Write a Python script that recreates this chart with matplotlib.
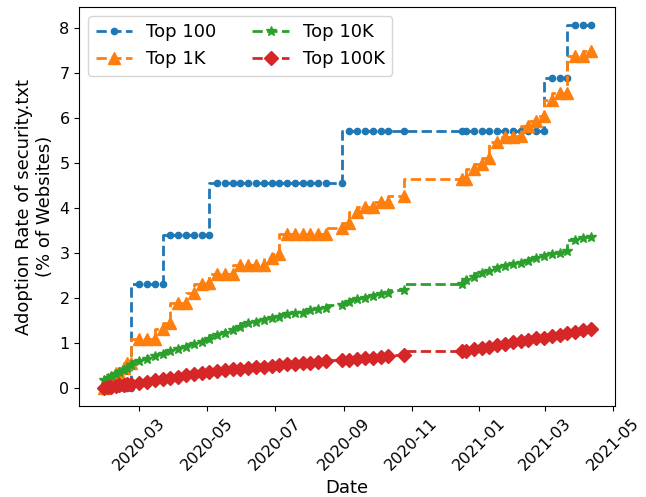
import matplotlib
matplotlib.use("Agg")
import matplotlib.pyplot as plt
import matplotlib.dates as mdates
import pandas as pd

# Scan dates
scan_dates = [
    "2020-01-29", "2020-02-02", "2020-02-05", "2020-02-09", "2020-02-12",
    "2020-02-16", "2020-02-19", "2020-02-23",
    "2020-03-01", "2020-03-08", "2020-03-15", "2020-03-22", "2020-03-29",
    "2020-04-05", "2020-04-12", "2020-04-19", "2020-04-26",
    "2020-05-03", "2020-05-10", "2020-05-17", "2020-05-24", "2020-05-31",
    "2020-06-07", "2020-06-14", "2020-06-21", "2020-06-28",
    "2020-07-05", "2020-07-12", "2020-07-19", "2020-07-26",
    "2020-08-02", "2020-08-09", "2020-08-16", "2020-08-30",
    "2020-09-06", "2020-09-13", "2020-09-20", "2020-09-27",
    "2020-10-04", "2020-10-11", "2020-10-25",
    "2020-12-16", "2020-12-20", "2020-12-27",
    "2021-01-03", "2021-01-10", "2021-01-17", "2021-01-24", "2021-01-31",
    "2021-02-07", "2021-02-14", "2021-02-21", "2021-02-28",
    "2021-03-07", "2021-03-14", "2021-03-21", "2021-03-28",
    "2021-04-04", "2021-04-11",
]

top_100 = [
    0.00, 0.00, 0.00, 0.00, 0.00, 0.00, 0.00, 0.00,
    2.30, 2.30, 2.30, 2.30, 3.41,
    3.41, 3.41, 3.41, 3.41,
    3.41, 4.55, 4.55, 4.55, 4.55,
    4.55, 4.55, 4.55, 4.55,
    4.55, 4.55, 4.55, 4.55,
    4.55, 4.55, 4.55, 4.55,
    5.71, 5.71, 5.71, 5.71,
    5.71, 5.71, 5.71,
    5.71, 5.71, 5.71,
    5.71, 5.71, 5.71, 5.71, 5.71,
    5.71, 5.71, 5.71, 5.71,
    6.90, 6.90, 6.90, 8.07,
    8.07, 8.07,
]

top_1k = [
    0.00, 0.11, 0.22, 0.33, 0.33, 0.44, 0.55, 0.55,
    1.08, 1.08, 1.08, 1.31, 1.44,
    1.88, 1.88, 2.10, 2.30,
    2.33, 2.53, 2.53, 2.53, 2.73,
    2.73, 2.73, 2.73, 2.88,
    2.98, 3.42, 3.42, 3.42,
    3.42, 3.42, 3.42, 3.55,
    3.67, 3.92, 4.03, 4.03,
    4.14, 4.14, 4.27,
    4.64, 4.64, 4.86,
    4.99, 5.12, 5.46, 5.58, 5.58,
    5.60, 5.82, 5.94, 6.04,
    6.41, 6.55, 6.55, 7.38,
    7.38, 7.50,
]

top_10k = [
    0.17, 0.22, 0.27, 0.31, 0.35, 0.40, 0.44, 0.50,
    0.60, 0.65, 0.70, 0.75, 0.82,
    0.87, 0.92, 0.97, 1.03,
    1.09, 1.18, 1.21, 1.29, 1.36,
    1.45, 1.47, 1.51, 1.55,
    1.58, 1.64, 1.66, 1.67,
    1.73, 1.76, 1.77, 1.84,
    1.92, 1.97, 2.01, 2.04,
    2.09, 2.12, 2.18,
    2.32, 2.40, 2.47,
    2.55, 2.60, 2.66, 2.72, 2.75,
    2.77, 2.83, 2.88, 2.93,
    2.98, 3.00, 3.05, 3.30,
    3.33, 3.36,
]

top_100k = [
    0.00, 0.02, 0.03, 0.05, 0.06, 0.07, 0.08, 0.09,
    0.11, 0.14, 0.17, 0.19, 0.22,
    0.25, 0.28, 0.31, 0.33,
    0.36, 0.38, 0.40, 0.41, 0.43,
    0.44, 0.46, 0.47, 0.49,
    0.50, 0.52, 0.53, 0.55,
    0.56, 0.58, 0.59, 0.62,
    0.63, 0.65, 0.66, 0.67,
    0.69, 0.70, 0.73,
    0.81, 0.83, 0.86,
    0.89, 0.92, 0.95, 0.98, 1.01,
    1.04, 1.07, 1.10, 1.12,
    1.15, 1.18, 1.21, 1.25,
    1.29, 1.32,
]

series_labels = ["Top 100", "Top 1K", "Top 10K", "Top 100K"]

dates = pd.to_datetime(scan_dates)

fig = plt.figure(figsize=(6.46, 4.97), dpi=100)
ax = fig.add_axes([0.1228, 0.1831, 0.952 - 0.1228, 0.9859 - 0.1831])

styles = [
    dict(color="#1f77b4", marker="o", markersize=4.5),
    dict(color="#ff7f0e", marker="^", markersize=8),
    dict(color="#2ca02c", marker="*", markersize=7.5),
    dict(color="#d62728", marker="D", markersize=7),
]

for vals, label, st in zip([top_100, top_1k, top_10k, top_100k], series_labels, styles):
    ax.plot(dates, vals, linestyle="--", linewidth=2, drawstyle="steps",
            label=label, **st)

ax.xaxis.set_major_locator(mdates.MonthLocator(bymonth=[1, 3, 5, 7, 9, 11]))
ax.xaxis.set_major_formatter(mdates.DateFormatter("%Y-%m"))
ax.tick_params(axis="both", labelsize=11.5)
for lbl in ax.get_xticklabels():
    lbl.set_rotation(45)

ax.set_xlabel("Date", fontsize=13)
ax.set_ylabel("Adoption Rate of security.txt\n(% of Websites)", fontsize=13)
ax.legend(loc="upper left", ncol=2, fontsize=13)

fig.savefig("out.png", dpi=100)
